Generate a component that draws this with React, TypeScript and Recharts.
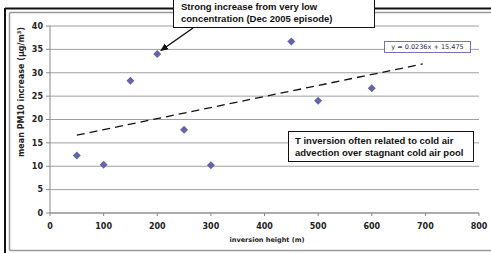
import { ScatterChart, Scatter, XAxis, YAxis, CartesianGrid, ReferenceLine } from "recharts";

// inversion height (m) vs mean PM10 increase
const inversionHeights = [50, 100, 150, 200, 250, 300, 450, 500, 600];
const pm10Increase = [12.3, 10.3, 28.3, 34.0, 17.8, 10.2, 36.7, 24.0, 26.7];

const xTicks = [0, 100, 200, 300, 400, 500, 600, 700, 800];
const yTicks = [0, 5, 10, 15, 20, 25, 30, 35, 40];

// linear trend shown on the chart
const trendSlope = 0.0236;
const trendIntercept = 15.475;
const trendRange = [50, 695];

const points = inversionHeights.map((h, i) => ({ h, v: pm10Increase[i] }));
const trendSegment = trendRange.map((x) => ({ x, y: trendSlope * x + trendIntercept }));

const tickFont = { fontSize: 8, fontWeight: 700, fontFamily: "DejaVu Sans", fill: "#222" };

function Diamond(props: { cx?: number; cy?: number }) {
  const { cx = 0, cy = 0 } = props;
  const r = 4;
  return (
    <polygon
      points={`${cx},${cy - r} ${cx + r},${cy} ${cx},${cy + r} ${cx - r},${cy}`}
      fill="#6464a8"
    />
  );
}

const boxStyle: React.CSSProperties = {
  position: "absolute",
  background: "#fff",
  border: "1.5px solid #111",
  boxSizing: "border-box",
  fontFamily: "'Liberation Sans', Arial, sans-serif",
  fontWeight: 700,
  fontSize: 9.5,
  lineHeight: "12px",
  color: "#111",
};

export default function App() {
  return (
    <div style={{ position: "absolute", left: 0, top: 0, width: 491, height: 253, background: "#fff", overflow: "hidden" }}>
      <svg width={491} height={253} style={{ position: "absolute", left: 0, top: 0 }}>
        {/* frame */}
        <line x1={5} y1={8.5} x2={491} y2={8.5} stroke="#111" strokeWidth={2} />
        <line x1={5} y1={8} x2={5} y2={253} stroke="#111" strokeWidth={2} />
        <line x1={9.5} y1={12.5} x2={491} y2={12.5} stroke="#999" strokeWidth={1.5} />
        <line x1={9.5} y1={12.5} x2={9.5} y2={250.5} stroke="#999" strokeWidth={1.5} />
        <line x1={9.5} y1={250.5} x2={491} y2={250.5} stroke="#999" strokeWidth={1.5} />
      </svg>
      <div style={{ position: "absolute", left: 0, top: 0 }}>
        <ScatterChart width={491} height={253} margin={{ top: 26, right: 12, bottom: 10, left: 6 }}>
          <CartesianGrid vertical={false} stroke="#a0a0a0" strokeWidth={1} />
          <XAxis
            type="number"
            dataKey="h"
            domain={[0, 800]}
            ticks={xTicks}
            interval={0}
            height={30}
            tick={tickFont}
            tickSize={3}
            tickMargin={7}
            stroke="#888"
          />
          <YAxis
            type="number"
            dataKey="v"
            domain={[0, 40]}
            ticks={yTicks}
            interval={0}
            width={44}
            tick={tickFont}
            tickSize={4}
            tickMargin={3}
            stroke="#888"
          />
          <ReferenceLine
            segment={trendSegment}
            stroke="#111"
            strokeWidth={1.3}
            strokeDasharray="8 5"
          />
          <Scatter data={points} shape={<Diamond />} isAnimationActive={false} />
        </ScatterChart>
      </div>
      <svg width={491} height={253} style={{ position: "absolute", left: 0, top: 0, pointerEvents: "none" }}>
        <defs>
          <marker id="head" markerWidth={8} markerHeight={8} refX={7} refY={4} orient="auto" markerUnits="userSpaceOnUse">
            <path d="M0,0.5 L8,4 L0,7.5 z" fill="#111" />
          </marker>
        </defs>
        <line x1={193} y1={28} x2={161} y2={50.5} stroke="#111" strokeWidth={1.5} markerEnd="url(#head)" />
        <text
          transform="translate(24,92) rotate(-90)"
          textAnchor="middle"
          style={{ fontSize: 8, fontWeight: 700, fontFamily: "DejaVu Sans", fill: "#222" }}
        >
          mean PM10 increase (µg/m<tspan dy={-3} fontSize={5}>3</tspan>
          <tspan dy={3}>)</tspan>
        </text>
        <text
          x={267}
          y={242}
          textAnchor="middle"
          style={{ fontSize: 6.5, fontWeight: 700, fontFamily: "DejaVu Sans", fill: "#222" }}
        >
          inversion height (m)
        </text>
      </svg>
      <div style={{ ...boxStyle, left: 173, top: -1, width: 202, height: 29, padding: "1px 0 0 7px" }}>
        Strong increase from very low
        <br />
        concentration (Dec 2005 episode)
      </div>
      <div style={{ ...boxStyle, left: 288, top: 131, width: 186, height: 31, padding: "3px 0 0 6px" }}>
        T inversion often related to cold air
        <br />
        advection over stagnant cold air pool
      </div>
      <div
        style={{
          position: "absolute",
          left: 384,
          top: 41,
          width: 87,
          height: 12,
          boxSizing: "border-box",
          background: "#fff",
          border: "1px solid #7272b4",
          fontFamily: "DejaVu Sans",
          fontSize: 6.5,
          lineHeight: "10px",
          color: "#2a2a55",
          textAlign: "center",
          whiteSpace: "nowrap",
        }}
      >
        y = 0.0236x + 15.475
      </div>
    </div>
  );
}
